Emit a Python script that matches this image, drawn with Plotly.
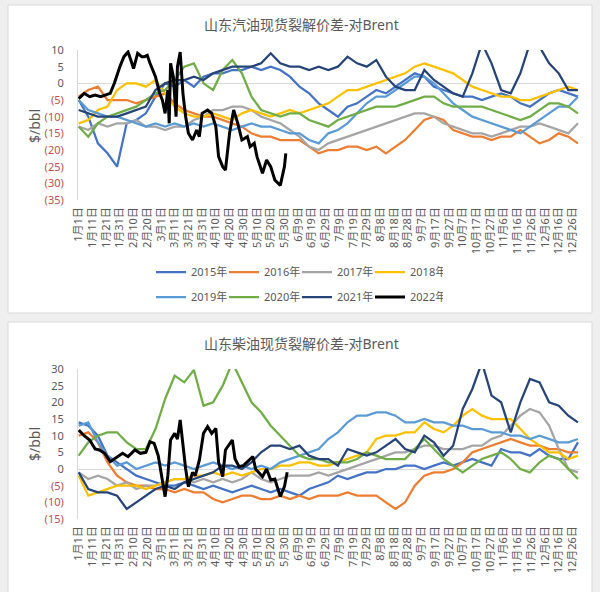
import plotly.graph_objects as go
import pandas as pd

W, H = 600, 592

# ---------------- categories (leap-year calendar, as on the axis) ----------------
_dates = pd.date_range("2020-01-01", "2020-12-31", freq="D")
CATEGORIES = [f"{d.month}月{d.day}日" for d in _dates]
TICK_LABELS = CATEGORIES[::10]

YEARS = ["2015年", "2016年", "2017年", "2018年", "2019年", "2020年", "2021年", "2022年"]
COLORS = ["#4472C4", "#ED7D31", "#A5A5A5", "#FFC000", "#5B9BD5", "#70AD47", "#264478", "#000000"]

# sample days (day-of-year index) for the full-year series
SAMPLE_DAYS = list(range(0, 365, 7))

# ---------------- gasoline crack spread ($/bbl) ----------------
gas_2015 = [-5, -10, -18, -21, -25, -12, -11, -9, -4, 0, -1, 1, -1, 2, 3, 3, 4, 4, 5, 4, 5, 4, 2, -1, -3,
            -6, -8, -10, -7, -6, -4, -2, -3, -1, 1, 3, 2, -1, -2, -3, -4, -4, -5, -4, -3, -4, -6, -7, -5, -3,
            -2, -3, -4]
gas_2016 = [-4, -2, -1, -5, -5, -5, -6, -5, -4, -3, -6, -8, -9, -10, -10, -11, -12, -13, -15, -16, -16, -17,
            -17, -17, -19, -21, -20, -20, -19, -19, -20, -19, -21, -19, -17, -14, -11, -10, -11, -14, -15, -16,
            -16, -17, -16, -16, -14, -16, -18, -17, -15, -16, -18]
gas_2017 = [-13, -14, -12, -13, -12, -12, -11, -13, -13, -14, -13, -13, -11, -10, -8, -8, -7, -7, -8, -10, -11,
            -12, -14, -16, -19, -20, -18, -17, -16, -15, -14, -13, -12, -11, -10, -9, -9, -10, -12, -13, -14,
            -15, -15, -16, -15, -14, -13, -13, -12, -13, -14, -15, -12]
gas_2018 = [-12, -11, -8, -7, -2, 0, 0, -1, 1, -3, -7, -9, -10, -10, -9, -10, -11, -9, -8, -9, -10, -9, -8, -9,
            -8, -7, -6, -4, -2, -2, -1, 0, 1, 2, 3, 5, 6, 5, 4, 3, 1, -1, -2, -3, -4, -4, -5, -5, -4, -3, -2,
            -1, -2]
gas_2019 = [-5, -8, -9, -10, -10, -11, -12, -13, -12, -13, -12, -13, -12, -13, -12, -13, -14, -13, -12, -13, -13,
            -14, -15, -15, -17, -18, -15, -14, -12, -9, -6, -4, -4, -2, 0, 2, 2, 0, -3, -6, -8, -10, -11, -12,
            -13, -14, -15, -13, -11, -9, -7, -7, -4]
gas_2020 = [-13, -16, -12, -10, -9, -8, -7, -5, -3, -2, 1, 5, 6, 0, -2, 4, 7, 3, -4, -8, -9, -10, -9, -9, -11,
            -12, -13, -11, -10, -9, -8, -7, -7, -7, -6, -5, -4, -4, -6, -7, -7, -7, -7, -8, -9, -10, -11, -10,
            -8, -6, -6, -7, -9]
gas_2021 = [-8, -9, -10, -10, -10, -9, -8, -7, -2, 0, 1, 1, 2, 1, 3, 4, 5, 5, 5, 6, 9, 6, 5, 5, 4, 5, 4, 5, 8,
            6, 5, 7, 2, -1, -2, -2, 4, 1, -1, -3, -4, 3, 12, 6, -2, -3, 3, 12, 11, 6, 3, -2, -2]
gas_2022_days = [0, 4, 8, 12, 16, 20, 23, 26, 30, 33, 36, 38, 40, 43, 46, 48, 50, 52, 56, 59, 61, 63, 65, 66,
                 67, 69, 71, 72, 74, 76, 78, 80, 83, 86, 88, 90, 94, 97, 100, 102, 105, 107, 110, 113, 116,
                 119, 123, 125, 128, 130, 134, 137, 140, 143, 147, 150, 151]
gas_2022 = [-4.6, -3, -4, -3.5, -4, -3.5, -3, 0, 5, 8, 9.4, 7, 4.4, 9, 8, 8, 8.4, 6, 2, -3, -5, -9, -2, -12,
            6, 2, -10, 5, 9.4, -3, -10, -15, -17, -14, -16, -9, -8, -9, -13, -22, -25, -26, -15, -8, -12,
            -17, -16, -19, -18, -22, -27, -23, -25, -29, -30.6, -25, -21]

# ---------------- diesel crack spread ($/bbl) ----------------
diesel_2015 = [14, 13, 10, 4, 2, 0, -2, -3, -4, -5, -5, -4, -5, -6, -5, -6, -7, -6, -5, -6, -7, -6, -7, -8, -6,
               -5, -4, -2, -3, -2, -1, -1, 0, 0, 1, 1, 0, 1, 2, 1, 2, 3, 2, 1, 6, 5, 5, 4, 6, 4, 3, 3, 8]
diesel_2016 = [10, 11, 8, 2, -2, -4, -5, -5, -6, -6, -7, -6, -7, -7, -9, -10, -9, -8, -8, -9, -9, -8, -9, -8,
               -9, -8, -8, -8, -7, -8, -8, -8, -10, -12, -10, -5, -2, -1, -1, 0, 2, 5, 6, 7, 8, 9, 8, 7, 7, 6,
               6, 5, 5]
diesel_2017 = [-1, -3, -2, -3, -5, -4, -6, -5, -5, -4, -3, -3, -4, -3, -4, -3, -4, -3, -1, -3, -4, -3, -2, -2,
               -2, -1, -2, -1, 0, 1, 2, 3, 4, 5, 5, 6, 7, 7, 6, 6, 6, 7, 7, 9, 10, 13, 16, 18, 17, 13, 6, 0, -1]
diesel_2018 = [-2, -8, -7, -6, -5, -5, -5, -6, -5, -4, -3, -3, -2, -2, -1, -2, -1, -2, -1, 0, 0, 1, 1, 2, 2, 1,
               1, 2, 3, 4, 5, 9, 10, 10, 11, 11, 14, 12, 11, 13, 16, 18, 16, 15, 15, 15, 12, 9, 7, 5, 5, 3, 4]
diesel_2019 = [13, 14, 8, 4, 1, 2, 0, 1, 2, 1, 2, 1, 0, 1, 2, 1, 0, 1, 0, 1, 0, 2, 3, 4, 5, 6, 9, 11, 14, 16,
               16, 17, 17, 16, 14, 14, 15, 14, 14, 13, 13, 12, 12, 11, 11, 10, 10, 9, 10, 9, 8, 8, 9]
diesel_2020 = [4, 8, 10, 11, 11, 8, 6, 6, 12, 21, 28, 26, 29.7, 19, 20, 25, 32, 26, 20, 17, 13, 10, 7, 4, 3, 3,
               2, 2, 2, 3, 5, 4, 3, 3, 3, 6, 9, 6, 3, 1, -1, 1, 3, 4, 5, 3, 0, -1, 2, 4, 3, 0, -3]
diesel_2021 = [-1, -6, -7, -7, -8, -12, -10, -8, -6, -5, -6, -4, -3, -2, -1, 1, 1, 0, 2, 5, 7, 7, 6, 7, 4, 3, 3,
               1, 6, 5, 4, 5, 7, 9, 6, 5, 10, 8, 4, 7, 18, 24, 32, 22, 20, 11, 20, 27, 26, 20, 19, 16, 14]
diesel_2022_days = [0, 4, 8, 12, 15, 19, 23, 28, 32, 36, 41, 45, 49, 52, 55, 58, 61, 63, 65, 67, 70, 72, 74, 76,
                    78, 80, 83, 85, 88, 91, 94, 97, 100, 102, 105, 107, 110, 112, 114, 117, 120, 122, 127, 129,
                    134, 137, 140, 143, 147, 150, 152]
diesel_2022 = [11.7, 10, 8.7, 6, 5.7, 4.7, 2.2, 3.7, 4.7, 3.7, 5.7, 4.7, 5, 8.2, 7.7, 4, -3.3, -8.3, -2, 8.7,
               10.7, 9, 14.7, 7, 0, -5.3, -1, -2, 2.7, 10.7, 12.7, 10.7, 12.2, 2, -2.3, 5.7, 7.7, 8.7, 3, 0.7,
               1, 1.7, 3.7, 0, -2.3, 0, -3.3, -3, -8.3, -5.3, -1]

GAS_TICKS = [10, 5, 0, -5, -10, -15, -20, -25, -30, -35]
DIESEL_TICKS = [30, 25, 20, 15, 10, 5, 0, -5, -10, -15]

TITLE_GAS = "山东汽油现货裂解价差-对Brent"
TITLE_DIESEL = "山东柴油现货裂解价差-对Brent"
Y_TITLE = "$/bbl"

# ---------------- build figure ----------------
FONT = "Noto Sans, Noto Sans CJK SC, sans-serif"
GREY = "#595959"
RED = "#C0504D"


def px_y(p):
    return 1 - p / H


def px_x(p):
    return p / W


def tick_text(vals):
    out = []
    for v in vals:
        if v < 0:
            out.append(f'<span style="color:{RED}">({abs(v)})</span>')
        else:
            out.append(str(v))
    return out


fig = go.Figure()

gas_series = [gas_2015, gas_2016, gas_2017, gas_2018, gas_2019, gas_2020, gas_2021]
diesel_series = [diesel_2015, diesel_2016, diesel_2017, diesel_2018, diesel_2019, diesel_2020, diesel_2021]

for i, ys in enumerate(gas_series):
    fig.add_trace(go.Scatter(
        x=[CATEGORIES[d] for d in SAMPLE_DAYS], y=ys, mode="lines", name=YEARS[i],
        line=dict(color=COLORS[i], width=2.25), xaxis="x", yaxis="y",
        legend="legend" if i < 4 else "legend2"))
fig.add_trace(go.Scatter(
    x=[CATEGORIES[d] for d in gas_2022_days], y=gas_2022, mode="lines", name=YEARS[7],
    line=dict(color=COLORS[7], width=3), xaxis="x", yaxis="y", legend="legend2"))

for i, ys in enumerate(diesel_series):
    fig.add_trace(go.Scatter(
        x=[CATEGORIES[d] for d in SAMPLE_DAYS], y=ys, mode="lines", name=YEARS[i],
        line=dict(color=COLORS[i], width=2.25), xaxis="x2", yaxis="y2", showlegend=False))
fig.add_trace(go.Scatter(
    x=[CATEGORIES[d] for d in diesel_2022_days], y=diesel_2022, mode="lines", name=YEARS[7],
    line=dict(color=COLORS[7], width=3), xaxis="x2", yaxis="y2", showlegend=False))

xdom = [px_x(78), px_x(580)]
xcommon = dict(type="category", categoryorder="array", categoryarray=CATEGORIES,
               range=[-0.5, len(CATEGORIES) - 0.5], tickmode="array", tickvals=TICK_LABELS,
               ticktext=TICK_LABELS, tickangle=-90, showgrid=False, showline=False, zeroline=False,
               ticks="", tickfont=dict(family=FONT, size=11, color=GREY), automargin=False,
               ticklabelstandoff=4, domain=xdom)
ycommon = dict(showgrid=False, zeroline=True, zerolinecolor="#D9D9D9", zerolinewidth=1,
               showline=True, linecolor="#D9D9D9", linewidth=1, ticks="",
               tickfont=dict(family=FONT, size=11, color=GREY), automargin=False,
               ticklabelstandoff=11)

legend_common = dict(orientation="h", xanchor="left", yanchor="middle", bgcolor="rgba(0,0,0,0)",
                     font=dict(family=FONT, size=11, color=GREY), entrywidth=28,
                     entrywidthmode="pixels", itemwidth=30, tracegroupgap=0)

fig.update_layout(
    width=W, height=H, margin=dict(l=0, r=0, t=0, b=0),
    paper_bgcolor="#EFEFEF", plot_bgcolor="rgba(0,0,0,0)",
    font=dict(family=FONT, color=GREY),
    xaxis=dict(xcommon, anchor="y"),
    yaxis=dict(ycommon, domain=[px_y(200), px_y(50)], range=[-35, 10], tickvals=GAS_TICKS,
               ticktext=tick_text(GAS_TICKS), anchor="x"),
    xaxis2=dict(xcommon, anchor="y2"),
    yaxis2=dict(ycommon, domain=[px_y(519), px_y(369)], range=[-15, 30], tickvals=DIESEL_TICKS,
                ticktext=tick_text(DIESEL_TICKS), anchor="x2"),
    legend=dict(legend_common, x=px_x(151), y=px_y(272)),
    legend2=dict(legend_common, x=px_x(151), y=px_y(297)),
    showlegend=True,
    shapes=[
        dict(type="rect", xref="paper", yref="paper", x0=px_x(8), x1=px_x(592), y0=px_y(313), y1=px_y(5),
             fillcolor="white", line=dict(color="#D9D9D9", width=1), layer="below"),
        dict(type="rect", xref="paper", yref="paper", x0=px_x(8), x1=px_x(592), y0=px_y(620), y1=px_y(322),
             fillcolor="white", line=dict(color="#D9D9D9", width=1), layer="below"),
    ],
    annotations=[
        dict(text=TITLE_GAS, x=px_x(301), y=px_y(25), xref="paper", yref="paper", showarrow=False,
             font=dict(family=FONT, size=14, color=GREY), xanchor="center", yanchor="middle"),
        dict(text=TITLE_DIESEL, x=px_x(301), y=px_y(343), xref="paper", yref="paper", showarrow=False,
             font=dict(family=FONT, size=14, color=GREY), xanchor="center", yanchor="middle"),
        dict(text=Y_TITLE, x=px_x(34), y=px_y(126), xref="paper", yref="paper", showarrow=False,
             textangle=-90, font=dict(family=FONT, size=14, color=GREY), xanchor="center", yanchor="middle"),
        dict(text=Y_TITLE, x=px_x(34), y=px_y(444), xref="paper", yref="paper", showarrow=False,
             textangle=-90, font=dict(family=FONT, size=14, color=GREY), xanchor="center", yanchor="middle"),
    ],
)

# remove the default 8px page margin so the figure fills the window exactly
fig.write_html("out.html", config={"displayModeBar": False},
               post_script="document.body.style.margin='0';")
